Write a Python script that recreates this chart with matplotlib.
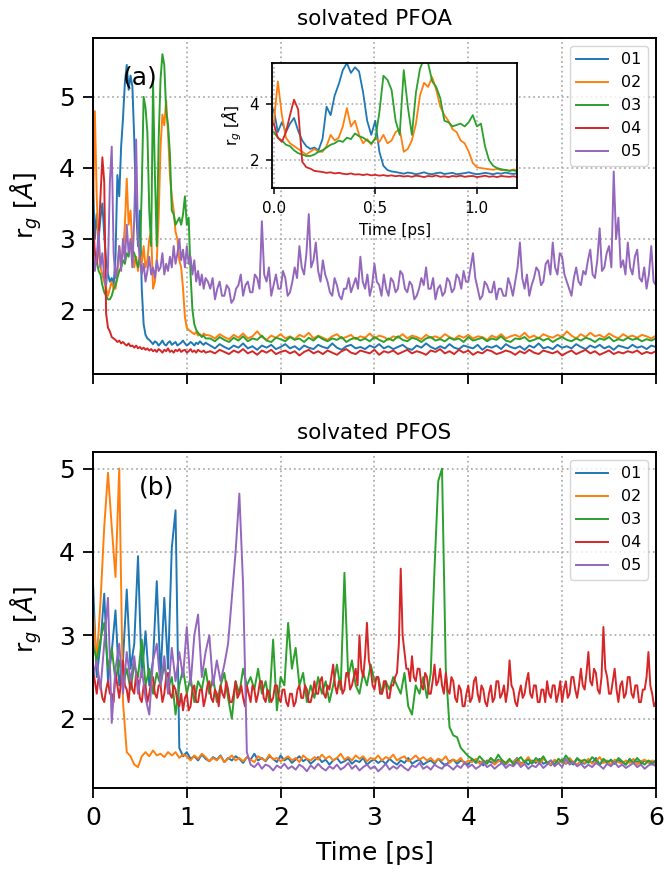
import matplotlib
matplotlib.use("Agg")
import matplotlib.pyplot as plt
import numpy as np

labels = ["01", "02", "03", "04", "05"]
colors = ["tab:blue", "tab:orange", "tab:green", "tab:red", "tab:purple"]

# solvated PFOA, 0 - 1.2 ps, every 0.02 ps (also used for the inset)
pfoa_early_01 = [3.8, 3.0, 3.35, 3.0, 3.3, 3.5, 3.05, 2.7, 2.5, 2.4, 2.45, 2.35, 2.75, 3.9, 3.6, 4.3,
                 4.7, 5.2, 5.45, 5.1, 5.3, 5.15, 4.4, 3.4, 2.9, 3.4, 2.3, 1.8, 1.65, 1.6, 1.58,
                 1.55, 1.52, 1.56, 1.54, 1.5, 1.53, 1.57, 1.52, 1.5, 1.54, 1.56, 1.51, 1.53, 1.55, 1.5,
                 1.52, 1.54, 1.57, 1.53, 1.5, 1.52, 1.55, 1.53, 1.5, 1.54, 1.52, 1.56, 1.53, 1.51, 1.54]
pfoa_early_02 = [3.3, 4.8, 3.6, 2.8, 2.6, 2.5, 2.4, 2.3, 2.2, 2.3, 2.4, 2.3, 2.3, 2.5, 2.9, 2.7,
                 2.8, 3.2, 3.85, 3.2, 3.4, 2.9, 2.6, 2.75, 2.55, 2.8, 2.65, 2.9, 2.6, 2.7, 3.0,
                 3.1, 2.3, 2.4, 2.7, 3.3, 4.3, 4.75, 4.6, 4.95, 4.5, 3.9, 3.6, 3.4, 3.1, 3.0,
                 2.7, 2.6, 2.3, 1.9, 1.75, 1.72, 1.7, 1.68, 1.66, 1.69, 1.64, 1.66, 1.63, 1.67, 1.65]
pfoa_early_03 = [3.0, 2.8, 2.7, 2.55, 2.5, 2.35, 2.25, 2.2, 2.15, 2.15, 2.2, 2.3, 2.35, 2.45, 2.55, 2.6,
                 2.7, 2.65, 2.8, 2.75, 2.95, 2.85, 2.8, 2.7, 2.6, 2.75, 3.7, 5.0, 4.85, 4.5, 3.4,
                 2.9, 5.2, 3.9, 2.9, 4.4, 5.25, 5.6, 5.45, 4.8, 4.6, 4.2, 3.4, 3.35, 3.2, 3.25,
                 3.3, 3.2, 3.35, 3.6, 3.2, 3.3, 2.5, 2.0, 1.8, 1.72, 1.68, 1.65, 1.62, 1.64, 1.6]
pfoa_early_04 = [3.3, 2.8, 2.65, 3.0, 3.6, 4.15, 3.8, 1.95, 1.75, 1.7, 1.62, 1.6, 1.58, 1.55, 1.57, 1.53,
                 1.55, 1.52, 1.5, 1.53, 1.49, 1.5, 1.47, 1.5, 1.46, 1.48, 1.45, 1.47, 1.44, 1.46,
                 1.43, 1.45, 1.42, 1.44, 1.41, 1.45, 1.43, 1.4, 1.44, 1.42, 1.46, 1.41, 1.43, 1.4, 1.44,
                 1.42, 1.45, 1.41, 1.43, 1.44, 1.4, 1.42, 1.45, 1.41, 1.43, 1.4, 1.44, 1.42, 1.41, 1.43, 1.4]
pfoa_early_05 = [2.9, 2.55, 2.75, 3.1, 2.6, 2.8, 2.45, 2.35, 2.6, 3.8, 4.3, 2.8, 2.45, 2.6, 2.9, 2.55,
                 3.0, 2.7, 3.2, 2.8, 3.0, 2.6, 3.3, 4.4, 3.0, 2.7, 2.5, 2.65, 2.4, 2.55, 2.75,
                 2.5, 2.6, 2.45, 2.7, 2.55, 2.6, 2.8, 2.5, 2.65, 2.55, 2.75, 2.6, 2.9, 2.65, 2.8,
                 3.0, 2.7, 2.85, 2.6, 2.9, 2.65, 2.75, 2.5, 2.7, 2.4, 2.55, 2.35, 2.5, 2.3, 2.45]

# solvated PFOA, rest of the run (01-04 from 1.25 ps every 0.05 ps, 05 from 1.225 ps every 0.025 ps)
pfoa_late_01 = [1.5, 1.46, 1.52, 1.48, 1.45, 1.5, 1.47, 1.53, 1.46, 1.49,
                1.44, 1.5, 1.47, 1.51, 1.45, 1.48, 1.52, 1.46, 1.49, 1.44,
                1.5, 1.47, 1.45, 1.51, 1.48, 1.46, 1.53, 1.47, 1.44, 1.49,
                1.51, 1.46, 1.48, 1.45, 1.5, 1.47, 1.52, 1.46, 1.49, 1.45,
                1.48, 1.51, 1.46, 1.44, 1.5, 1.47, 1.53, 1.48, 1.45, 1.49,
                1.46, 1.52, 1.47, 1.45, 1.5, 1.48, 1.46, 1.51, 1.44, 1.49,
                1.47, 1.5, 1.45, 1.52, 1.48, 1.46, 1.49, 1.44, 1.5, 1.47,
                1.53, 1.46, 1.48, 1.45, 1.51, 1.47, 1.49, 1.46, 1.52, 1.48,
                1.45, 1.5, 1.47, 1.51, 1.46, 1.49, 1.44, 1.5, 1.48, 1.46,
                1.51, 1.47, 1.49, 1.45, 1.5, 1.48]
pfoa_late_02 = [1.64, 1.6, 1.66, 1.62, 1.59, 1.65, 1.61, 1.67, 1.6, 1.63,
                1.7, 1.62, 1.58, 1.64, 1.61, 1.66, 1.6, 1.63, 1.59, 1.65,
                1.62, 1.68, 1.6, 1.64, 1.61, 1.58, 1.63, 1.66, 1.6, 1.62,
                1.65, 1.59, 1.63, 1.61, 1.67, 1.6, 1.64, 1.62, 1.58, 1.63,
                1.61, 1.66, 1.6, 1.64, 1.62, 1.59, 1.65, 1.61, 1.63, 1.6,
                1.66, 1.62, 1.59, 1.64, 1.61, 1.65, 1.6, 1.63, 1.62, 1.58,
                1.64, 1.61, 1.66, 1.6, 1.63, 1.65, 1.62, 1.68, 1.61, 1.64,
                1.6, 1.66, 1.63, 1.61, 1.65, 1.62, 1.7, 1.64, 1.6, 1.66,
                1.62, 1.68, 1.63, 1.65, 1.61, 1.67, 1.63, 1.6, 1.66, 1.62,
                1.64, 1.61, 1.65, 1.63, 1.6, 1.64]
pfoa_late_03 = [1.6, 1.56, 1.62, 1.58, 1.55, 1.61, 1.57, 1.63, 1.56, 1.6,
                1.58, 1.64, 1.57, 1.55, 1.61, 1.59, 1.56, 1.62, 1.58, 1.6,
                1.55, 1.61, 1.57, 1.63, 1.59, 1.56, 1.6, 1.58, 1.62, 1.55,
                1.59, 1.61, 1.57, 1.6, 1.56, 1.62, 1.58, 1.55, 1.6, 1.57,
                1.63, 1.58, 1.56, 1.61, 1.59, 1.55, 1.6, 1.62, 1.57, 1.59,
                1.56, 1.61, 1.58, 1.6, 1.55, 1.62, 1.57, 1.59, 1.61, 1.56,
                1.6, 1.58, 1.63, 1.57, 1.55, 1.6, 1.59, 1.62, 1.56, 1.58,
                1.61, 1.57, 1.6, 1.55, 1.59, 1.62, 1.58, 1.56, 1.6, 1.57,
                1.61, 1.59, 1.55, 1.6, 1.58, 1.62, 1.56, 1.59, 1.57, 1.61,
                1.58, 1.6, 1.56, 1.59, 1.57, 1.6]
pfoa_late_04 = [1.42, 1.39, 1.44, 1.41, 1.38, 1.43, 1.4, 1.45, 1.39, 1.42,
                1.37, 1.43, 1.4, 1.44, 1.38, 1.41, 1.43, 1.39, 1.42, 1.36,
                1.41, 1.44, 1.39, 1.42, 1.38, 1.43, 1.4, 1.37, 1.42, 1.45,
                1.4, 1.38, 1.43, 1.41, 1.39, 1.44, 1.37, 1.42, 1.4, 1.43,
                1.38, 1.41, 1.44, 1.39, 1.42, 1.4, 1.37, 1.43, 1.41, 1.45,
                1.39, 1.42, 1.38, 1.44, 1.4, 1.43, 1.37, 1.41, 1.39, 1.44,
                1.42, 1.38, 1.4, 1.43, 1.41, 1.37, 1.42, 1.39, 1.44, 1.4,
                1.38, 1.43, 1.41, 1.39, 1.42, 1.36, 1.4, 1.43, 1.38, 1.41,
                1.44, 1.39, 1.42, 1.37, 1.4, 1.43, 1.38, 1.41, 1.39, 1.42,
                1.4, 1.43, 1.38, 1.41, 1.39, 1.42]
pfoa_late_05 = [2.4,
                2.3, 2.45, 2.15, 2.3, 2.4, 2.2, 2.2, 2.35, 2.3, 2.1, 2.15, 2.3, 2.35, 2.5, 2.2, 2.35,
                2.4, 2.25, 2.25, 2.5, 2.45, 2.3, 3.25, 2.5, 2.4, 2.6, 2.2, 2.35, 2.5, 2.3, 2.3, 2.55,
                2.45, 2.2, 2.25, 2.4, 2.6, 2.45, 2.9, 2.6, 2.5, 2.8, 3.35, 2.6, 2.7, 2.95, 2.55, 2.4,
                2.7, 2.5, 2.4, 2.25, 2.2, 2.45, 2.35, 2.2, 2.15, 2.3, 2.3, 2.45, 2.25, 2.35, 2.45, 2.3,
                2.75, 2.4, 2.3, 2.5, 2.2, 2.35, 2.65, 2.4, 2.35, 2.2, 2.5, 2.3, 2.2, 2.45, 2.4, 2.25,
                2.3, 2.55, 2.5, 2.3, 2.25, 2.4, 2.35, 2.15, 2.2, 2.3, 2.45, 2.35, 2.6, 2.3, 2.3, 2.45,
                2.15, 2.3, 2.35, 2.2, 2.25, 2.45, 2.4, 2.25, 2.3, 2.5, 2.45, 2.3, 2.55, 2.4, 2.4, 2.6,
                2.8, 2.45, 2.3, 2.15, 2.2, 2.4, 2.35, 2.25, 2.25, 2.4, 2.15, 2.3, 2.3, 2.2, 2.2, 2.45,
                2.35, 2.2, 2.4, 2.6, 2.95, 2.45, 2.3, 2.5, 2.2, 2.35, 2.45, 2.6, 2.55, 2.35, 2.4, 2.65,
                2.7, 2.5, 2.95, 2.6, 2.5, 2.8, 2.75, 2.5, 2.4, 2.3, 2.2, 2.45, 2.6, 2.4, 2.35, 2.55,
                2.5, 2.7, 2.85, 2.5, 2.45, 2.7, 3.15, 2.55, 2.6, 2.8, 2.9, 2.6, 3.95, 3.0, 3.3, 2.6,
                2.7, 2.5, 2.95, 2.6, 2.5, 2.75, 2.85, 2.45, 2.4, 2.6, 2.3, 2.5, 2.9, 2.4, 2.35]

# solvated PFOS, 0 - 6 ps (every 0.04 ps, 04 every 0.02 ps)
pfos_01 = [3.65, 2.5, 2.9, 3.5, 2.45, 2.8, 3.3, 2.4, 2.7, 3.55, 2.6, 2.9, 3.95, 2.5, 3.05, 2.4,
           2.7, 3.65, 2.5, 3.45, 2.6, 4.05, 4.5, 1.65, 1.55, 1.6, 1.52,
           1.55, 1.5, 1.57, 1.52, 1.49, 1.54, 1.51, 1.56, 1.48, 1.53,
           1.5, 1.55, 1.52, 1.47, 1.54, 1.51, 1.58, 1.5, 1.53, 1.49,
           1.55, 1.52, 1.48, 1.56, 1.5, 1.53, 1.47, 1.51, 1.55, 1.49,
           1.52, 1.46, 1.5, 1.54, 1.48, 1.51, 1.45, 1.5, 1.53, 1.47,
           1.49, 1.52, 1.46, 1.5, 1.48, 1.53, 1.45, 1.49, 1.51, 1.47,
           1.5, 1.46, 1.52, 1.48, 1.45, 1.5, 1.47, 1.53, 1.46, 1.49,
           1.51, 1.45, 1.48, 1.5, 1.46, 1.52, 1.47, 1.44, 1.49, 1.51,
           1.46, 1.5, 1.48, 1.45, 1.52, 1.47, 1.49, 1.44, 1.5, 1.48,
           1.46, 1.51, 1.47, 1.45, 1.5, 1.48, 1.53, 1.46, 1.49, 1.45,
           1.5, 1.47, 1.52, 1.46, 1.48, 1.44, 1.5, 1.47, 1.51, 1.46,
           1.49, 1.45, 1.52, 1.48, 1.46, 1.5, 1.47, 1.53, 1.45, 1.49,
           1.47, 1.51, 1.46, 1.5, 1.48, 1.45, 1.52, 1.47, 1.49, 1.46,
           1.5, 1.48, 1.45, 1.51]
pfos_02 = [3.3, 2.7, 3.4, 4.3, 4.95, 4.3, 3.7, 5.0, 2.2, 1.6, 1.55, 1.45, 1.42, 1.55, 1.6, 1.55,
           1.62, 1.56, 1.58, 1.54, 1.6,
           1.56, 1.6, 1.53, 1.57, 1.55, 1.5, 1.56, 1.52, 1.58, 1.54,
           1.49, 1.53, 1.5, 1.55, 1.48, 1.52, 1.56, 1.5, 1.53, 1.49,
           1.54, 1.51, 1.48, 1.55, 1.52, 1.5, 1.57, 1.51, 1.53, 1.49,
           1.52, 1.55, 1.5, 1.53, 1.48, 1.56, 1.52, 1.5, 1.54, 1.51,
           1.57, 1.52, 1.55, 1.5, 1.53, 1.58, 1.51, 1.54, 1.5, 1.56,
           1.52, 1.55, 1.49, 1.53, 1.51, 1.56, 1.5, 1.54, 1.52, 1.57,
           1.5, 1.53, 1.55, 1.49, 1.52, 1.56, 1.51, 1.54, 1.5, 1.53,
           1.48, 1.52, 1.5, 1.55, 1.47, 1.51, 1.49, 1.53, 1.46, 1.5,
           1.48, 1.52, 1.46, 1.5, 1.47, 1.53, 1.45, 1.49, 1.51, 1.46,
           1.5, 1.47, 1.52, 1.45, 1.49, 1.54, 1.47, 1.5, 1.46, 1.52,
           1.48, 1.45, 1.51, 1.47, 1.5, 1.46, 1.53, 1.48, 1.45, 1.5,
           1.47, 1.52, 1.46, 1.49, 1.54, 1.47, 1.5, 1.45, 1.51, 1.48,
           1.46, 1.5, 1.47, 1.52, 1.45, 1.49, 1.51, 1.47, 1.5, 1.46]
pfos_03 = [2.9, 2.7, 2.95, 3.15, 2.6, 2.85, 2.45, 2.7, 2.4, 2.6, 2.35, 2.65, 2.5, 2.95, 2.4, 2.6,
           2.3, 2.55, 2.4, 2.65, 2.35, 2.5, 2.05, 2.4, 2.6, 2.3, 2.5, 2.2, 2.45, 2.35,
           2.6, 2.3, 2.5, 2.2, 2.4, 2.55, 2.25, 2.0, 2.45, 2.3, 2.6, 2.4, 2.5, 2.35,
           2.6, 2.3, 2.45, 2.2, 2.95, 2.1, 2.5, 2.4, 3.15, 2.6, 2.85, 2.4, 2.55, 2.2,
           2.4, 2.25, 2.5, 2.3, 2.45, 2.2, 2.4, 2.65, 2.35, 3.75, 2.5, 2.7, 2.4, 2.3,
           2.55, 2.4, 2.65, 2.45, 2.5, 2.3, 2.45, 2.35, 2.5, 2.4, 2.3, 2.55, 2.15, 2.05,
           2.4, 2.3, 2.5, 2.25, 2.55, 3.8, 4.85, 5.0, 2.6, 1.9, 1.8, 1.78, 1.65, 1.6, 1.55,
           1.52, 1.48, 1.55, 1.5, 1.46, 1.53, 1.49, 1.57, 1.5, 1.47,
           1.52, 1.45, 1.5, 1.54, 1.48, 1.51, 1.46, 1.53, 1.49, 1.55,
           1.47, 1.5, 1.45, 1.52, 1.48, 1.56, 1.5, 1.46, 1.53, 1.49,
           1.51, 1.47, 1.54, 1.5, 1.45, 1.52, 1.48, 1.5, 1.46, 1.53,
           1.49, 1.45, 1.51, 1.47, 1.53, 1.48, 1.45, 1.5, 1.47, 1.49]
pfos_04 = [2.6, 2.45, 2.3, 2.5, 2.4, 2.25, 2.2, 2.35, 2.45, 2.3, 2.3, 2.2, 2.55, 2.4, 2.25, 2.45,
           2.7, 2.4, 2.35, 2.2, 2.5, 2.35, 2.3, 2.55, 2.45, 2.25, 2.2, 2.4, 2.4, 2.2,
           2.3, 2.45, 2.5, 2.3, 2.25, 2.4, 2.4, 2.2, 2.3, 2.5, 2.55, 2.3, 2.25, 2.4,
           2.35, 2.2, 2.15, 2.3, 2.1, 2.25, 2.3, 2.1, 2.15, 2.35, 2.4, 2.2, 2.2, 2.35,
           2.35, 2.15, 2.25, 2.4, 2.45, 2.25, 2.2, 2.35, 2.3, 2.15, 2.4, 2.3, 2.25, 2.45,
           2.35, 2.2, 2.2, 2.3, 2.45, 2.25, 2.3, 2.4, 2.25, 2.15, 2.4, 2.3, 2.2, 2.4,
           2.35, 2.2, 2.3, 2.45, 2.45, 2.25, 2.2, 2.35, 2.3, 2.2, 2.25, 2.4, 2.4, 2.25,
           2.2, 2.35, 2.35, 2.2, 2.15, 2.3, 2.3, 2.15, 2.2, 2.35, 2.4, 2.25, 2.25, 2.4,
           2.35, 2.2, 2.2, 2.3, 2.45, 2.3, 2.3, 2.45, 2.5, 2.3, 2.25, 2.4, 2.35, 2.5,
           2.65, 2.4, 2.3, 2.45, 2.45, 2.3, 2.35, 2.55, 2.55, 2.35, 2.4, 2.5, 2.6, 2.4,
           3.0, 2.6, 2.5, 2.75, 3.15, 2.7, 2.6, 2.4, 2.35, 2.5, 2.5, 2.3, 2.3, 2.45,
           2.45, 2.25, 2.25, 2.4, 2.4, 2.5, 2.55, 2.9, 3.8, 3.0, 2.8, 2.6, 2.6, 2.45,
           2.75, 2.5, 2.45, 2.6, 2.6, 2.4, 2.35, 2.55, 2.5, 2.3, 2.3, 2.45, 2.65, 2.4,
           2.45, 2.6, 2.4, 2.3, 2.55, 2.35, 2.3, 2.5, 2.45, 2.25, 2.2, 2.4, 2.35, 2.15,
           2.15, 2.3, 2.4, 2.2, 2.25, 2.45, 2.5, 2.3, 2.2, 2.4, 2.35, 2.2, 2.15, 2.3,
           2.4, 2.2, 2.25, 2.45, 2.45, 2.25, 2.3, 2.4, 2.2, 2.35, 2.7, 2.4, 2.35, 2.2,
           2.15, 2.3, 2.4, 2.25, 2.3, 2.45, 2.55, 2.3, 2.25, 2.4, 2.4, 2.2, 2.2, 2.35,
           2.35, 2.2, 2.45, 2.3, 2.25, 2.4, 2.4, 2.2, 2.3, 2.45, 2.2, 2.35, 2.45, 2.25,
           2.3, 2.5, 2.5, 2.35, 2.25, 2.4, 2.6, 2.4, 2.35, 2.55, 2.8, 2.45, 2.4, 2.6,
           2.55, 2.35, 2.3, 2.5, 3.1, 2.6, 2.5, 2.3, 2.3, 2.45, 2.6, 2.35, 2.2, 2.4,
           2.45, 2.25, 2.3, 2.5, 2.5, 2.3, 2.25, 2.4, 2.4, 2.2, 2.2, 2.35, 2.35, 2.5,
           2.8, 2.4, 2.3, 2.15, 2.2]
pfos_05 = [2.5, 2.7, 2.35, 2.9, 3.45, 1.95, 2.6, 2.9, 2.3, 2.8, 2.45, 2.75, 2.3, 2.6, 2.25, 2.05,
           2.7, 2.9, 2.4, 2.75, 2.3, 2.85, 2.45, 2.8, 2.5, 3.1, 2.4, 3.0, 3.25, 2.5,
           2.8, 3.0, 2.4, 2.7, 2.45, 2.65, 2.9, 3.45, 4.0, 4.7, 3.6, 1.6, 1.45,
           1.42, 1.47, 1.4, 1.45, 1.43, 1.38, 1.44, 1.41, 1.46, 1.4,
           1.43, 1.39, 1.45, 1.42, 1.37, 1.44, 1.4, 1.46, 1.41, 1.38,
           1.43, 1.4, 1.45, 1.39, 1.42, 1.47, 1.4, 1.44, 1.38, 1.42,
           1.45, 1.4, 1.43, 1.37, 1.41, 1.46, 1.39, 1.43, 1.4, 1.45,
           1.41, 1.38, 1.44, 1.42, 1.47, 1.4, 1.43, 1.39, 1.45, 1.42,
           1.4, 1.46, 1.43, 1.39, 1.44, 1.41, 1.47, 1.42, 1.45, 1.4,
           1.43, 1.48, 1.42, 1.45, 1.4, 1.44, 1.47, 1.41, 1.45, 1.43,
           1.48, 1.42, 1.46, 1.4, 1.44, 1.42, 1.47, 1.41, 1.45, 1.5,
           1.43, 1.47, 1.42, 1.52, 1.45, 1.48, 1.43, 1.46, 1.41, 1.45,
           1.42, 1.47, 1.44, 1.4, 1.46, 1.43, 1.48, 1.42, 1.45, 1.41,
           1.44, 1.47, 1.42, 1.45, 1.4, 1.44, 1.46, 1.43]

pfoa_early = [pfoa_early_01, pfoa_early_02, pfoa_early_03, pfoa_early_04, pfoa_early_05]
pfoa_late = [pfoa_late_01, pfoa_late_02, pfoa_late_03, pfoa_late_04, pfoa_late_05]
pfoa_late_start = [1.25, 1.25, 1.25, 1.25, 1.225]
pfoa_late_step = [0.05, 0.05, 0.05, 0.05, 0.025]
pfos = [pfos_01, pfos_02, pfos_03, pfos_04, pfos_05]
pfos_step = [0.04, 0.04, 0.04, 0.02, 0.04]

ylab = "r$_g$ [$Å$]"

fig = plt.figure(figsize=(6.66, 8.76), dpi=100)
ax1 = fig.add_axes([0.1396, 0.5731, 0.8453, 0.3836])
ax2 = fig.add_axes([0.1396, 0.1005, 0.8453, 0.3836])


def style(ax):
    ax.grid(True, linestyle=":", color="#b0b0b0", linewidth=1.3)
    ax.tick_params(labelsize=18, length=7, width=1.3, pad=6)
    for s in ax.spines.values():
        s.set_linewidth(1.4)
    ax.set_xlim(0, 6)
    ax.set_xticks(range(7))
    ax.set_ylabel(ylab, fontsize=18, labelpad=11)


# top: PFOA
for early, late, t0, dt, lab, c in zip(pfoa_early, pfoa_late, pfoa_late_start,
                                       pfoa_late_step, labels, colors):
    t = np.concatenate([0.02 * np.arange(len(early)), t0 + dt * np.arange(len(late))])
    ax1.plot(t, np.concatenate([early, late]), color=c, lw=1.4, label=lab)
style(ax1)
ax1.set_ylim(1.1, 5.83)
ax1.set_yticks([2, 3, 4, 5])
ax1.tick_params(labelbottom=False)
ax1.set_title("solvated PFOA", fontsize=15.5, pad=9)
ax1.text(0.5, 5.28, "(a)", fontsize=18, ha="center", va="center")
ax1.legend(loc="upper right", fontsize=11.5)

# bottom: PFOS
for vals, dt, lab, c in zip(pfos, pfos_step, labels, colors):
    ax2.plot(dt * np.arange(len(vals)), vals, color=c, lw=1.4, label=lab)
style(ax2)
ax2.set_ylim(1.17, 5.2)
ax2.set_yticks([2, 3, 4, 5])
ax2.set_xlabel("Time [ps]", fontsize=18, labelpad=8)
ax2.set_title("solvated PFOS", fontsize=15.5, pad=9)
ax2.text(0.68, 4.77, "(b)", fontsize=18, ha="center", va="center")
ax2.legend(loc="upper right", fontsize=11.5)

# inset: first 1.2 ps of PFOA, without 05
axin = fig.add_axes([0.408, 0.785, 0.369, 0.143])
for early, c in zip(pfoa_early[:4], colors[:4]):
    axin.plot(0.02 * np.arange(len(early)), early, color=c, lw=1.3)
axin.set_xlim(-0.01, 1.2)
axin.set_ylim(1.0, 5.45)
axin.set_xticks([0.0, 0.5, 1.0])
axin.set_yticks([2, 4])
axin.grid(True, linestyle=":", color="#b0b0b0", linewidth=1.2)
axin.tick_params(labelsize=11, length=4, width=1.1, pad=5)
for s in axin.spines.values():
    s.set_linewidth(1.3)
axin.set_xlabel("Time [ps]", fontsize=11, labelpad=5)
axin.set_ylabel(ylab, fontsize=11)

fig.savefig("out.png", dpi=100)
